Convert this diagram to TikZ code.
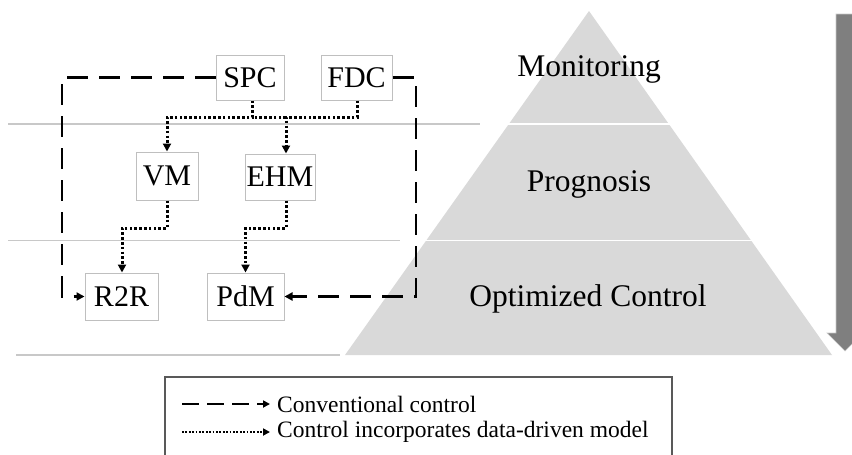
\documentclass[tikz,border=0pt]{standalone}
\usepackage{fontspec}
\setmainfont{Liberation Serif}
\usetikzlibrary{arrows.meta}
\definecolor{boxgray}{HTML}{BFBFBF}
\definecolor{rulegray}{HTML}{C8C8C8}
\definecolor{pyrgray}{HTML}{D9D9D9}
\definecolor{arrgray}{HTML}{7F7F7F}
\definecolor{leggray}{HTML}{595959}
\begin{document}
\begin{tikzpicture}[x=1pt,y=-1pt,
  blk/.style={draw=boxgray,line width=1pt,fill=white,inner sep=0pt,font=\fontsize{30}{31}\selectfont},
  pyrlabel/.style={font=\fontsize{31.5}{32}\selectfont,inner sep=0pt},
  conv/.style={line width=2.8pt,dash pattern=on 21pt off 11pt,-{Triangle[length=8pt,width=8pt]}},
  dm/.style={line width=3pt,dash pattern=on 2.6pt off 2.2pt},
  dmarrow/.style={dm,-{Triangle[length=8pt,width=8pt]}},
  sep/.style={draw=rulegray,line width=1.6pt},
  legtext/.style={font=\fontsize{23.5}{24}\selectfont,inner sep=0pt,anchor=west}]
\useasboundingbox (0,0) rectangle (852,455);
\clip (0,0) rectangle (852,455);
% separator lines
\draw[sep] (8,124) -- (502,124);
\draw[sep] (8,240.5) -- (420,240.5);
\draw[sep] (16,355) -- (340,355);
% pyramid
\fill[pyrgray] (589,11) -- (832,355) -- (345,355) -- cycle;
\draw[white,line width=1.6pt] (480,124) -- (700,124);
\draw[white,line width=1.6pt] (400,240.5) -- (780,240.5);
\node[pyrlabel] (mon) at (589,69) {Monitoring};
\node[pyrlabel] (pro) at (589,184) {Prognosis};
\node[pyrlabel] (opt) at (588,299) {Optimized Control};
% right arrow
\fill[arrgray,draw=rulegray,line width=0.6pt] (836,14) -- (854,14) -- (854,333) -- (863,333) -- (845,351) -- (827,333) -- (836,333) -- cycle;
% boxes
\node[blk,minimum width=68pt,minimum height=45pt] (SPC) at (250,77.5) {SPC};
\node[blk,minimum width=71pt,minimum height=45pt] (FDC) at (356.5,77.5) {FDC};
\node[blk,minimum width=62pt,minimum height=48pt] (VM) at (167,176) {VM};
\node[blk,minimum width=70pt,minimum height=46pt] (EHM) at (280,177) {EHM};
\node[blk,minimum width=73pt,minimum height=47pt] (R2R) at (121.5,296.5) {R2R};
\node[blk,minimum width=77pt,minimum height=47pt] (PdM) at (245.5,296.5) {PdM};
% conventional control loop
\draw[conv] (SPC.west) -- (62,77.5) |- (R2R.west);
\draw[conv] (FDC.east) -- (416,77.5) |- (PdM.east);
% data-driven paths
\draw[dmarrow] ([xshift=2pt]SPC.south) |- (167,117) -- (VM.north);
\draw[dmarrow] ([xshift=0.5pt]FDC.south) |- (286,117) -- ([xshift=6pt]EHM.north);
\draw[dm] (286,117) -- (252,117);
\draw[dmarrow] (VM.south) |- (122,228) -- ([xshift=0.5pt]R2R.north);
\draw[dmarrow] ([xshift=6pt]EHM.south) |- (245.5,228) -- (PdM.north);
% legend
\draw[leggray,line width=1.2pt] (165,470) -- (165,377) -- (672,377) -- (672,470);
\coordinate (la) at (182,404);
\coordinate (lb) at (270,404);
\coordinate (lc) at (182,432);
\coordinate (ld) at (270,432);
\draw[line width=2.2pt,dash pattern=on 17pt off 8pt,-{Triangle[length=7pt,width=7pt]}] (la) -- (lb);
\draw[line width=2pt,dash pattern=on 1.8pt off 1.6pt,-{Triangle[length=7pt,width=7pt]}] (lc) -- (ld);
\node[legtext] (t1) at (277,404) {Conventional control};
\node[legtext] (t2) at (277,432) {Control incorporates data-driven model};
\end{tikzpicture}
\end{document}
